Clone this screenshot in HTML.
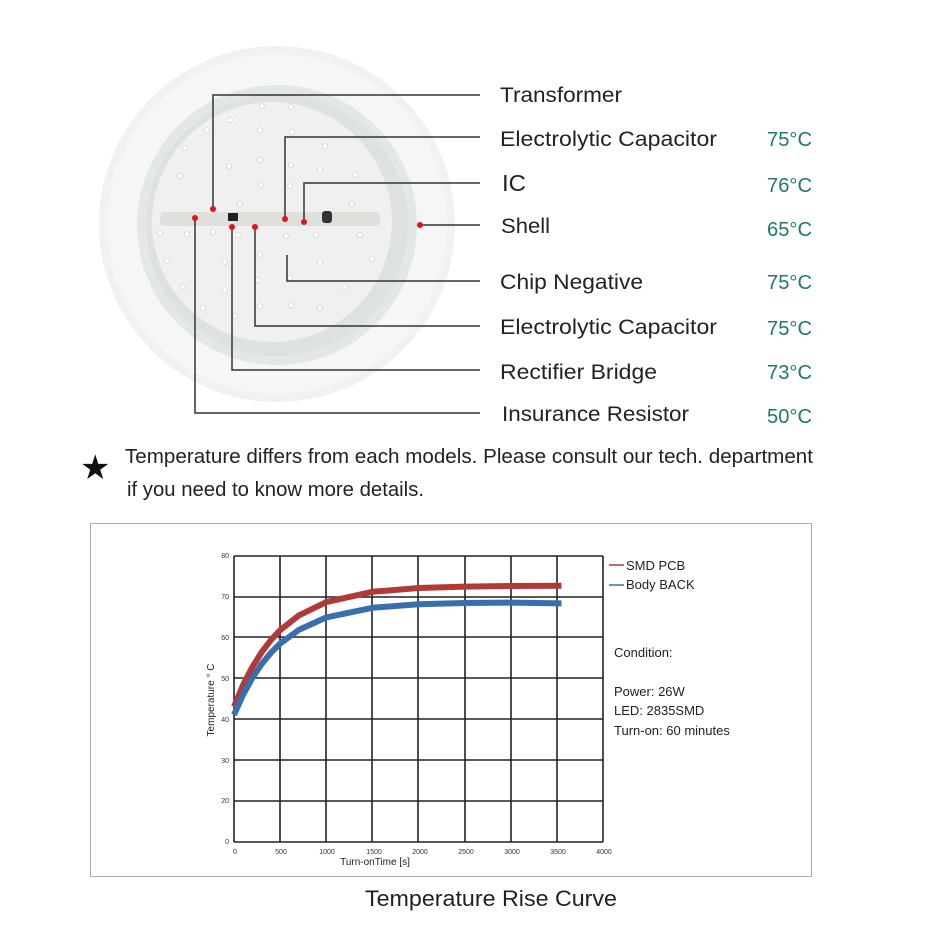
<!DOCTYPE html>
<html><head><meta charset="utf-8"><style>
body{margin:0;background:#fff;}
svg{display:block;font-family:"Liberation Sans",sans-serif;}
</style></head><body>
<svg width="945" height="945" viewBox="0 0 945 945" xmlns="http://www.w3.org/2000/svg">
<rect width="945" height="945" fill="#fff"/>
<!-- lamp -->
<circle cx="277" cy="224" r="178" fill="#f1f1f1"/>
<circle cx="277" cy="224" r="170" fill="#f6f6f6"/>
<circle cx="277" cy="225" r="140" fill="#e4e7e8"/>
<circle cx="277" cy="225" r="131" fill="#dde1e1"/>
<circle cx="272" cy="222" r="120" fill="#f0f0f0"/>
<rect x="160" y="212" width="220" height="14" rx="5" fill="#dfe0dc"/>
<rect x="228" y="213" width="10" height="8" fill="#222"/>
<rect x="322" y="211" width="10" height="12" rx="3" fill="#333"/>
<g fill="#fff" stroke="#ccc" stroke-width="0.6">
<circle cx="262" cy="106" r="2.5"/><circle cx="291" cy="107" r="2.5"/><circle cx="230" cy="120" r="2.5"/><circle cx="207" cy="130" r="2.5"/><circle cx="260" cy="130" r="2.5"/><circle cx="292" cy="132" r="2.5"/><circle cx="325" cy="146" r="2.5"/><circle cx="185" cy="148" r="2.5"/><circle cx="229" cy="166" r="2.5"/><circle cx="260" cy="160" r="2.5"/><circle cx="291" cy="165" r="2.5"/><circle cx="320" cy="170" r="2.5"/><circle cx="355" cy="175" r="2.5"/><circle cx="180" cy="176" r="2.5"/><circle cx="261" cy="185" r="2.5"/><circle cx="290" cy="186" r="2.5"/><circle cx="240" cy="204" r="2.5"/><circle cx="352" cy="204" r="2.5"/><circle cx="160" cy="233" r="2.5"/><circle cx="187" cy="234" r="2.5"/><circle cx="213" cy="232" r="2.5"/><circle cx="238" cy="235" r="2.5"/><circle cx="286" cy="236" r="2.5"/><circle cx="316" cy="235" r="2.5"/><circle cx="360" cy="235" r="2.5"/><circle cx="167" cy="261" r="2.5"/><circle cx="225" cy="262" r="2.5"/><circle cx="260" cy="255" r="2.5"/><circle cx="320" cy="262" r="2.5"/><circle cx="372" cy="259" r="2.5"/><circle cx="183" cy="287" r="2.5"/><circle cx="225" cy="290" r="2.5"/><circle cx="258" cy="280" r="2.5"/><circle cx="290" cy="278" r="2.5"/><circle cx="345" cy="287" r="2.5"/><circle cx="203" cy="308" r="2.5"/><circle cx="235" cy="316" r="2.5"/><circle cx="291" cy="305" r="2.5"/><circle cx="260" cy="306" r="2.5"/><circle cx="320" cy="308" r="2.5"/>
</g>
<!-- leader lines -->
<g fill="none" stroke="#333" stroke-width="1.5">
<polyline points="213,209 213,95 480,95"/>
<polyline points="285,219 285,137 480,137"/>
<polyline points="304,222 304,183 480,183"/>
<polyline points="420,225 480,225"/>
<polyline points="287,255 287,281 480,281"/>
<polyline points="255,227 255,326 480,326"/>
<polyline points="232,227 232,370 480,370"/>
<polyline points="195,218 195,413 480,413"/>
</g>
<g fill="#e0141e">
<circle cx="213" cy="209" r="3"/><circle cx="285" cy="219" r="3"/><circle cx="304" cy="222" r="3"/><circle cx="420" cy="225" r="3"/><circle cx="195" cy="218" r="3"/><circle cx="232" cy="227" r="3"/><circle cx="255" cy="227" r="3"/>
</g>
<g font-size="21" fill="#222" lengthAdjust="spacingAndGlyphs">
<text x="500" y="102" textLength="122" lengthAdjust="spacingAndGlyphs">Transformer</text>
<text x="500" y="146" textLength="217" lengthAdjust="spacingAndGlyphs">Electrolytic Capacitor</text>
<text x="502" y="191" font-size="23" textLength="24" lengthAdjust="spacingAndGlyphs">IC</text>
<text x="501" y="233" textLength="49" lengthAdjust="spacingAndGlyphs">Shell</text>
<text x="500" y="289" textLength="143" lengthAdjust="spacingAndGlyphs">Chip Negative</text>
<text x="500" y="334" textLength="217" lengthAdjust="spacingAndGlyphs">Electrolytic Capacitor</text>
<text x="500" y="379" textLength="157" lengthAdjust="spacingAndGlyphs">Rectifier Bridge</text>
<text x="502" y="421" textLength="187" lengthAdjust="spacingAndGlyphs">Insurance Resistor</text>
</g>
<g font-size="20" fill="#1f7a68">
<text x="767" y="146" textLength="45" lengthAdjust="spacingAndGlyphs">75°C</text>
<text x="767" y="192" textLength="45" lengthAdjust="spacingAndGlyphs">76°C</text>
<text x="767" y="236" textLength="45" lengthAdjust="spacingAndGlyphs">65°C</text>
<text x="767" y="289" textLength="45" lengthAdjust="spacingAndGlyphs">75°C</text>
<text x="767" y="335" textLength="45" lengthAdjust="spacingAndGlyphs">75°C</text>
<text x="767" y="379" textLength="45" lengthAdjust="spacingAndGlyphs">73°C</text>
<text x="767" y="423" textLength="45" lengthAdjust="spacingAndGlyphs">50°C</text>
</g>
<text x="80" y="479" font-size="34" fill="#111">★</text>
<text x="125" y="463" font-size="20" fill="#222" textLength="688" lengthAdjust="spacingAndGlyphs">Temperature differs from each models. Please consult our tech. department</text>
<text x="127" y="496" font-size="20" fill="#222" textLength="297" lengthAdjust="spacingAndGlyphs">if you need to know more details.</text>
<!-- chart frame -->
<rect x="90.5" y="523.5" width="721" height="353" fill="none" stroke="#aaa" stroke-width="1"/>
<g stroke="#222" stroke-width="1.6">
<line x1="234" y1="556" x2="603" y2="556"/><line x1="234" y1="597" x2="603" y2="597"/><line x1="234" y1="637" x2="603" y2="637"/><line x1="234" y1="678" x2="603" y2="678"/><line x1="234" y1="719" x2="603" y2="719"/><line x1="234" y1="760" x2="603" y2="760"/><line x1="234" y1="801" x2="603" y2="801"/><line x1="234" y1="842" x2="603" y2="842"/>
<line x1="234" y1="556" x2="234" y2="842"/><line x1="280" y1="556" x2="280" y2="842"/><line x1="326" y1="556" x2="326" y2="842"/><line x1="372" y1="556" x2="372" y2="842"/><line x1="418" y1="556" x2="418" y2="842"/><line x1="465" y1="556" x2="465" y2="842"/><line x1="511" y1="556" x2="511" y2="842"/><line x1="557" y1="556" x2="557" y2="842"/><line x1="603" y1="556" x2="603" y2="842"/>
</g>
<g font-size="7" fill="#333" text-anchor="end">
<text x="229" y="558">80</text><text x="229" y="599">70</text><text x="229" y="640">60</text><text x="229" y="681">50</text><text x="229" y="722">40</text><text x="229" y="763">30</text><text x="229" y="803">20</text><text x="229" y="844">0</text>
</g>
<g font-size="7" fill="#333" text-anchor="middle">
<text x="235" y="854">0</text><text x="281" y="854">500</text><text x="327" y="854">1000</text><text x="374" y="854">1500</text><text x="420" y="854">2000</text><text x="466" y="854">2500</text><text x="512" y="854">3000</text><text x="558" y="854">3500</text><text x="604" y="854">4000</text>
</g>
<text x="375" y="865" font-size="10" fill="#222" text-anchor="middle">Turn-onTime [s]</text>
<text transform="translate(214,700) rotate(-90)" font-size="10" fill="#222" text-anchor="middle">Temperature ° C</text>
<path d="M234,706.7 L243.2,684.8 L252.5,666.8 L261.7,652.1 L270.9,640.1 L280.1,630.2 L298.6,615.6 L326.3,602.1 L372.4,591.8 L418.5,588 L464.6,586.6 L510.8,586 L561.5,585.8" fill="none" stroke="#b03a37" stroke-width="6" stroke-linejoin="round"/>
<path d="M234,714.9 L243.2,694.4 L252.5,677.7 L261.7,664 L270.9,652.8 L280.1,643.6 L298.6,630 L326.3,617.4 L372.4,607.8 L418.5,604.2 L464.6,603 L510.8,602.6 L561.5,603.4" fill="none" stroke="#3a6fae" stroke-width="6" stroke-linejoin="round"/>
<line x1="609" y1="565" x2="624" y2="565" stroke="#b03a37" stroke-width="1.5"/>
<line x1="609" y1="585" x2="624" y2="585" stroke="#3a6fae" stroke-width="1.5"/>
<g font-size="13" fill="#222">
<text x="626" y="570">SMD PCB</text>
<text x="626" y="589">Body BACK</text>
<text x="614" y="657">Condition:</text>
<text x="614" y="696">Power: 26W</text>
<text x="614" y="715">LED: 2835SMD</text>
<text x="614" y="735">Turn-on: 60 minutes</text>
</g>
<text x="365" y="906" font-size="22" fill="#222" textLength="252" lengthAdjust="spacingAndGlyphs">Temperature Rise Curve</text>
</svg>
</body></html>
